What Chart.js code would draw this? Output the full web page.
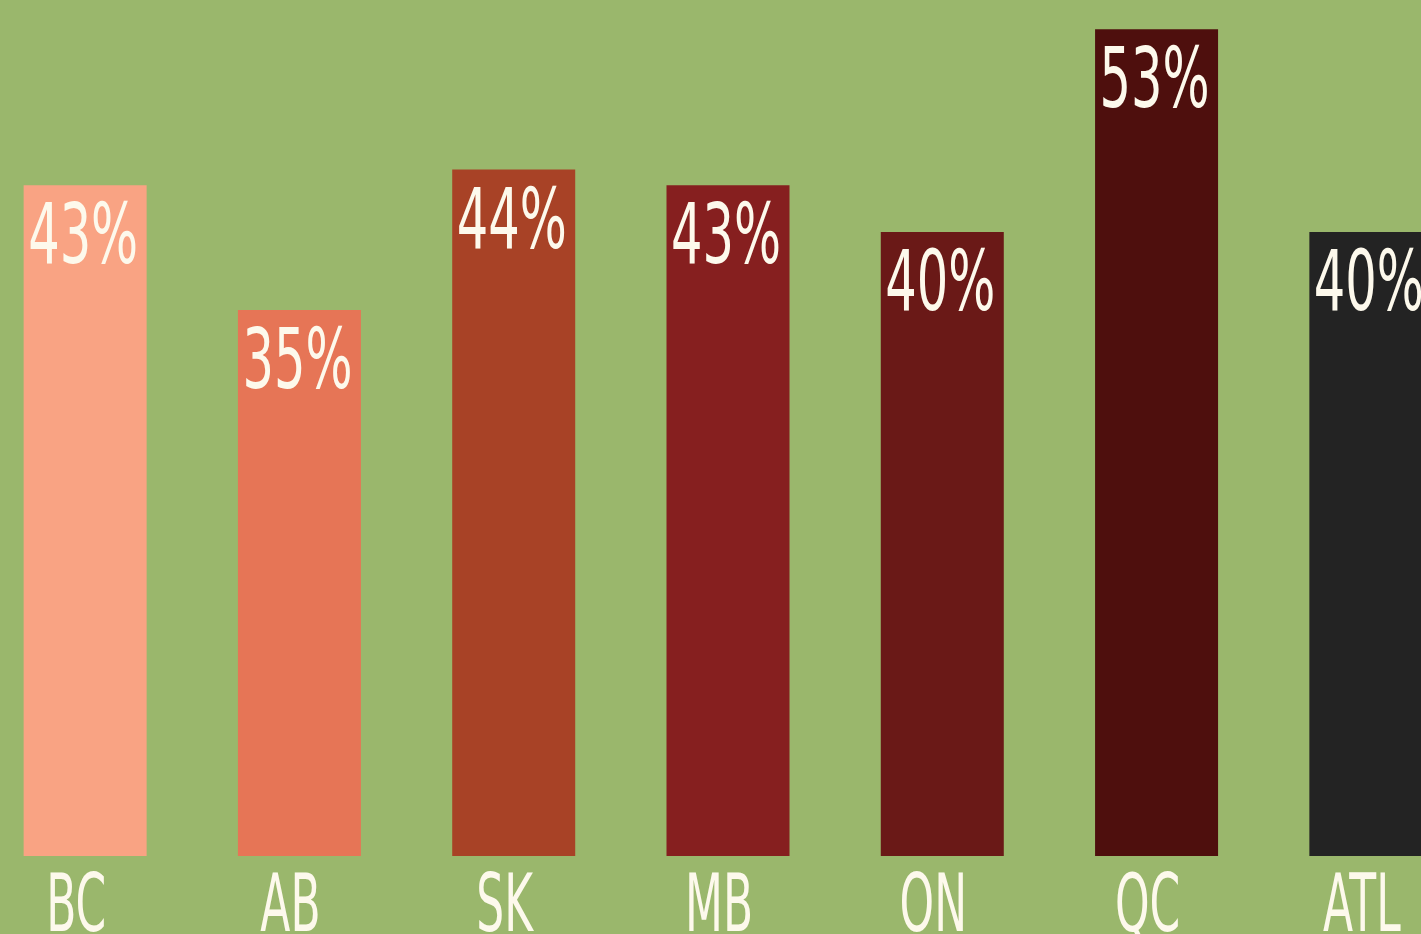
<!DOCTYPE html>
<html>
<head>
<meta charset="utf-8">
<title>Share by region</title>
<script src="https://cdn.jsdelivr.net/npm/chart.js@4/dist/chart.umd.min.js"></script>
<style>
  html, body {
    margin: 0;
    padding: 0;
    width: 1421px;
    height: 934px;
    overflow: hidden;
    background: #9ab76c;
  }
  #wrap {
    position: absolute;
    left: -21.6px;
    top: 0;
    width: 1500px;
    height: 1000px;
  }
</style>
</head>
<body>
<div id="wrap"><canvas id="shareChart"></canvas></div>
<script>
// ===== DATA =====
const categories  = ["BC", "AB", "SK", "MB", "ON", "QC", "ATL"];
const shareValues = [43, 35, 44, 43, 40, 53, 40];
const barColors   = ["#f9a383", "#e67556", "#a84226", "#861f1f", "#6a1917", "#4e0f0d", "#232323"];

const TEXT_COLOR = "#fdf9ec";
const FONT = "'Liberation Sans Narrow', 'DejaVu Sans Condensed', 'Liberation Sans', sans-serif";

// draws value labels inside the bar tops + category names under the bars,
// squeezed horizontally to mimic the condensed face of the original
const barLabels = {
  id: "barLabels",
  afterDatasetsDraw(chart) {
    const ctx = chart.ctx;
    const meta = chart.getDatasetMeta(0);
    const xScale = chart.scales.x;

    ctx.save();
    ctx.fillStyle = TEXT_COLOR;
    ctx.textAlign = "center";
    ctx.textBaseline = "alphabetic";

    // value labels
    ctx.font = "84px " + FONT;
    const sxVal = 110 / ctx.measureText("43%").width;
    meta.data.forEach((bar, i) => {
      ctx.save();
      ctx.translate(bar.x - 2, bar.y + 78);
      ctx.scale(sxVal, 1);
      ctx.fillText(shareValues[i] + "%", 0, 0);
      ctx.restore();
    });

    // category labels
    ctx.font = "80px " + FONT;
    const sxCat = 60 / ctx.measureText("BC").width;
    categories.forEach((name, i) => {
      ctx.save();
      ctx.translate(xScale.getPixelForValue(i) - 9, 931);
      ctx.scale(sxCat, 1);
      ctx.fillText(name, 0, 0);
      ctx.restore();
    });
    ctx.restore();
  }
};

const ctx = document.getElementById("shareChart").getContext("2d");

new Chart(ctx, {
  type: "bar",
  data: {
    labels: categories,
    datasets: [{
      data: shareValues,
      backgroundColor: barColors,
      borderWidth: 0,
      barPercentage: 0.574,
      categoryPercentage: 1
    }]
  },
  options: {
    responsive: true,
    maintainAspectRatio: false,
    devicePixelRatio: 1,
    animation: false,
    layout: { padding: 0 },
    plugins: {
      legend: { display: false },
      tooltip: { enabled: false }
    },
    scales: {
      x: {
        grid: { display: false },
        border: { display: false },
        ticks: { display: false },
        afterFit: axis => { axis.height = 144; }
      },
      y: {
        display: false,
        min: 0,
        max: 54.87
      }
    }
  },
  plugins: [barLabels]
});
</script>
</body>
</html>
